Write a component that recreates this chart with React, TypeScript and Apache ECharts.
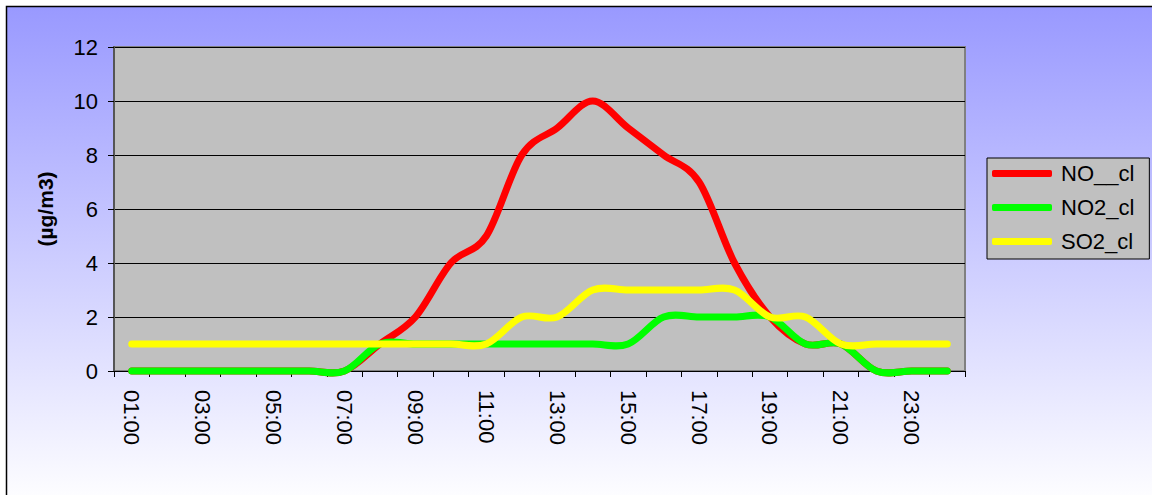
import React, { useEffect, useRef } from "react";
import * as echarts from "echarts";

const hours = [
  "01:00", "02:00", "03:00", "04:00", "05:00", "06:00", "07:00", "08:00",
  "09:00", "10:00", "11:00", "12:00", "13:00", "14:00", "15:00", "16:00",
  "17:00", "18:00", "19:00", "20:00", "21:00", "22:00", "23:00", "24:00",
];
const noValues = [0, 0, 0, 0, 0, 0, 0, 1, 2, 4, 5, 8, 9, 10, 9, 8, 7, 4, 2, 1, 1, 0, 0, 0];
const no2Values = [0, 0, 0, 0, 0, 0, 0, 1, 1, 1, 1, 1, 1, 1, 1, 2, 2, 2, 2, 1, 1, 0, 0, 0];
const so2Values = [1, 1, 1, 1, 1, 1, 1, 1, 1, 1, 1, 2, 2, 3, 3, 3, 3, 3, 2, 2, 1, 1, 1, 1];
const seriesNames = ["NO__cl", "NO2_cl", "SO2_cl"];
const seriesColors = ["#FF0000", "#00FF00", "#FFFF00"];
const yTicks = { min: 0, max: 12, interval: 2 };
const yTitle = "(µg/m3)";

const FONT = "'Liberation Sans', Arial, sans-serif";

function smoothPath(pts: number[][]): string {
  const n = pts.length;
  let d = `M${pts[0][0]},${pts[0][1]}`;
  for (let i = 0; i < n - 1; i++) {
    const p0 = pts[Math.max(i - 1, 0)];
    const p1 = pts[i];
    const p2 = pts[i + 1];
    const p3 = pts[Math.min(i + 2, n - 1)];
    const c1x = p1[0] + (p2[0] - p0[0]) / 6;
    const c1y = p1[1] + (p2[1] - p0[1]) / 6;
    const c2x = p2[0] - (p3[0] - p1[0]) / 6;
    const c2y = p2[1] - (p3[1] - p1[1]) / 6;
    d += ` C${c1x},${c1y} ${c2x},${c2y} ${p2[0]},${p2[1]}`;
  }
  return d;
}

export default function App() {
  const ref = useRef<HTMLDivElement>(null);
  useEffect(() => {
    if (!ref.current) return;
    const chart = echarts.init(ref.current, undefined, { renderer: "svg" });
    const values = [noValues, no2Values, so2Values];
    chart.setOption({
      animation: false,
      backgroundColor: "#FFFFFF",
      graphic: [
        {
          type: "rect",
          z: -10,
          shape: { x: 6.5, y: 6.5, width: 1160, height: 500 },
          style: {
            fill: new echarts.graphic.LinearGradient(0, 0, 0, 1, [
              { offset: 0, color: "#9999FF" },
              { offset: 1, color: "#FFFFFF" },
            ]),
            stroke: "#000000",
            lineWidth: 1.5,
          },
        },
      ],
      grid: {
        left: 114,
        right: 187,
        top: 47,
        bottom: 124,
        show: true,
        backgroundColor: "#C0C0C0",
        borderColor: "#808080",
        borderWidth: 2,
      },
      legend: {
        orient: "vertical",
        left: 987,
        top: 158,
        padding: [4, 15, 6, 5],
        itemWidth: 60,
        itemHeight: 7,
        itemGap: 11,
        icon: "roundRect",
        backgroundColor: "#C0C0C0",
        borderColor: "#000000",
        borderWidth: 1,
        textStyle: {
          fontFamily: FONT,
          fontSize: 22,
          color: "#000",
          lineHeight: 23,
          padding: [0, 0, 0, 4],
        },
        data: seriesNames,
      },
      xAxis: {
        type: "category",
        data: hours,
        boundaryGap: true,
        axisLine: { show: true, lineStyle: { color: "#000", width: 1 } },
        axisTick: { show: true, interval: 0, length: 6, lineStyle: { color: "#000" } },
        axisLabel: {
          interval: 1,
          rotate: -90,
          margin: 19,
          fontFamily: FONT,
          fontSize: 22,
          color: "#000",
        },
        splitLine: { show: false },
      },
      yAxis: {
        type: "value",
        min: yTicks.min,
        max: yTicks.max,
        interval: yTicks.interval,
        name: yTitle,
        nameLocation: "middle",
        nameRotate: 90,
        nameGap: 58,
        nameTextStyle: { fontFamily: FONT, fontSize: 21, fontWeight: "bold", color: "#000" },
        axisLine: { show: true, lineStyle: { color: "#555", width: 2 } },
        axisTick: { show: true, length: 6, lineStyle: { color: "#000" } },
        axisLabel: { margin: 16, fontFamily: FONT, fontSize: 22, color: "#000" },
        splitLine: { show: true, lineStyle: { color: "#000", width: 1 } },
      },
      series: seriesNames.map((name, si) => ({
        name,
        type: "custom",
        data: values[si].map((v, i) => [i, v]),
        encode: { x: 0, y: 1 },
        itemStyle: { color: seriesColors[si] },
        renderItem: (params: any, api: any) => {
          if (params.dataIndex !== 0) return null;
          const pts = values[si].map((v, i) => api.coord([i, v]));
          return {
            type: "path",
            shape: { pathData: smoothPath(pts) },
            style: {
              fill: "none",
              stroke: seriesColors[si],
              lineWidth: 7,
              lineCap: "round",
              lineJoin: "round",
            },
          };
        },
      })),
    });
    return () => chart.dispose();
  }, []);
  return (
    <div
      ref={ref}
      style={{ position: "fixed", left: 0, top: 0, width: 1152, height: 495 }}
    />
  );
}
